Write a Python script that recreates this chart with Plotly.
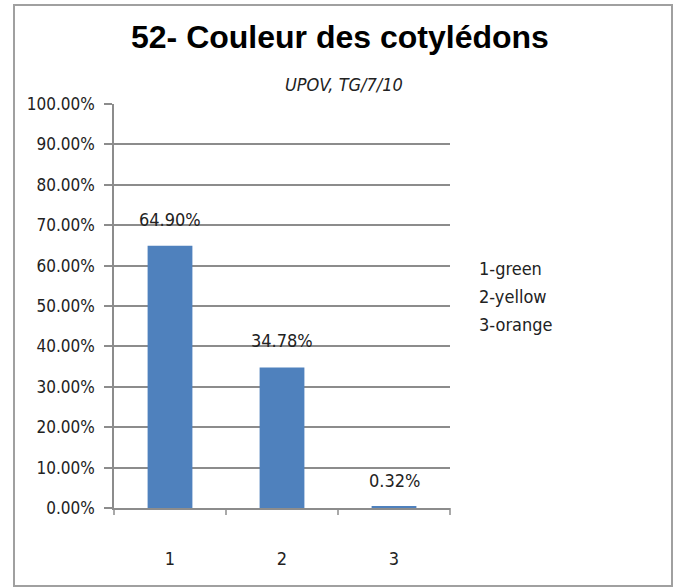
import plotly.graph_objects as go

categories = ["1", "2", "3"]
values = [64.90, 34.78, 0.32]
labels = ["64.90%", "34.78%", "0.32%"]
tick_vals = [0, 10, 20, 30, 40, 50, 60, 70, 80, 90, 100]
tick_text = ["0.00%", "10.00%", "20.00%", "30.00%", "40.00%", "50.00%",
             "60.00%", "70.00%", "80.00%", "90.00%", "100.00%"]
legend_lines = ["1-green", "2-yellow", "3-orange"]

FONT = "DejaVu Sans Condensed, Liberation Sans Narrow, Roboto, Arial"
W, H = 680, 588
L, R, T, B = 114, 450, 104, 508   # plot area in pixels
PW, PH = R - L, B - T

def px(x):
    return (x - L) / PW

def py(y):
    return (B - y) / PH

fig = go.Figure()
fig.add_trace(go.Bar(
    x=categories, y=values,
    marker=dict(color="#4F81BD", line=dict(width=0)),
    width=0.4,
))

annotations = [
    dict(x=i, y=v, xref="x", yref="y", text=t, showarrow=False,
         yanchor="bottom", yshift=14,
         font=dict(family=FONT, size=18, color="#222"))
    for i, (v, t) in enumerate(zip(values, labels))
]
annotations += [
    dict(text="<b>52- Couleur des cotylédons</b>", xref="paper", yref="paper",
         x=px(340), y=py(37), xanchor="center", yanchor="middle", showarrow=False,
         font=dict(family="Liberation Sans, Arial", size=32, color="black")),
    dict(text="<i>UPOV, TG/7/10</i>", xref="paper", yref="paper",
         x=px(344), y=py(85), xanchor="center", yanchor="middle", showarrow=False,
         font=dict(family=FONT, size=18, color="#222")),
]
annotations += [
    dict(text=t, xref="paper", yref="paper", x=px(477),
         y=py(268 + 28 * i), xanchor="left", yanchor="middle", showarrow=False,
         font=dict(family=FONT, size=18, color="#222"))
    for i, t in enumerate(legend_lines)
]

fig.update_layout(
    width=W, height=H,
    paper_bgcolor="white", plot_bgcolor="white",
    margin=dict(l=L, r=W - R, t=T, b=H - B, autoexpand=False),
    showlegend=False,
    xaxis=dict(
        type="category", range=[-0.5, 2.5], automargin=False,
        showline=True, linecolor="#8c8c8c", linewidth=1.5,
        ticks="", showgrid=False,
        tickfont=dict(family=FONT, size=18, color="#222"),
        ticklabelstandoff=34,
    ),
    yaxis=dict(
        range=[0, 100], tickvals=tick_vals, ticktext=tick_text, automargin=False,
        showline=True, linecolor="#8c8c8c", linewidth=1.5,
        ticks="outside", ticklen=8, tickcolor="#8c8c8c", tickwidth=1.5,
        showgrid=True, gridcolor="#8c8c8c", gridwidth=1.5,
        zeroline=False,
        tickfont=dict(family=FONT, size=17, color="#222"),
        ticklabelstandoff=6,
    ),
    shapes=[
        dict(type="rect", xref="paper", yref="paper",
             x0=px(14), x1=px(672), y0=py(586), y1=py(5),
             line=dict(color="#a0a0a0", width=2), fillcolor="rgba(0,0,0,0)"),
    ] + [
        dict(type="line", xref="paper", yref="paper",
             x0=i / 3, x1=i / 3, y0=0, y1=-7 / PH,
             line=dict(color="#8c8c8c", width=1.5)) for i in range(4)
    ],
    annotations=annotations,
)

fig.write_html("out.html", config={"displayModeBar": False},
               post_script="document.body.style.margin='0';")
